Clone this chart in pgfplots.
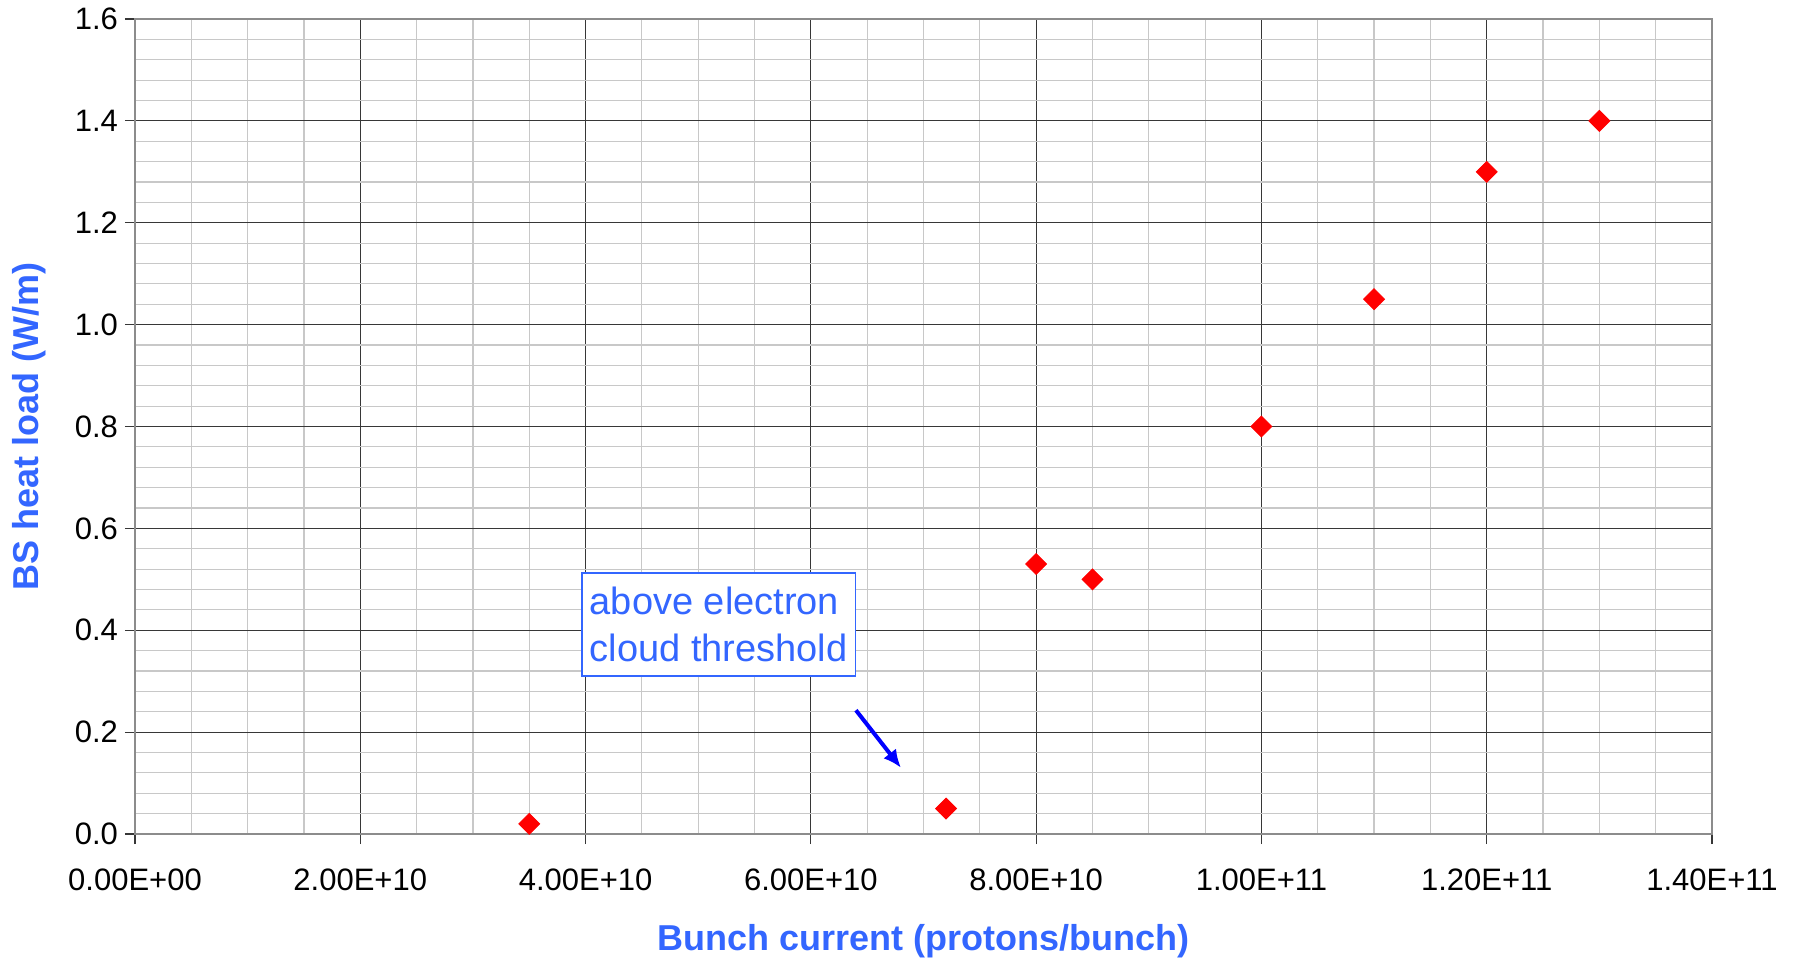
\documentclass[border=0pt]{standalone}
\usepackage{pgfplots}
\pgfplotsset{compat=1.18}
\usetikzlibrary{arrows.meta}
\usepackage{fontspec}
\setmainfont{Liberation Sans}
\definecolor{lblblue}{RGB}{51,102,255}
\definecolor{majgrid}{RGB}{55,55,55}
\definecolor{mingrid}{RGB}{200,200,200}
\definecolor{framegray}{RGB}{140,140,140}

\begin{document}
\begin{tikzpicture}
\begin{axis}[
    scale only axis,
    width=788.5pt, height=407.5pt,
    xmin=0, xmax=1.4e11,
    ymin=0, ymax=1.6,
    xtick={0,2e10,4e10,6e10,8e10,10e10,12e10,14e10},
    xticklabels={0.00E+00,2.00E+10,4.00E+10,6.00E+10,8.00E+10,1.00E+11,1.20E+11,1.40E+11},
    ytick={0,0.2,0.4,0.6,0.8,1.0,1.2,1.4,1.6},
    yticklabel style={/pgf/number format/.cd,fixed,fixed zerofill,precision=1},
    xticklabel style={yshift=-9pt},
    scaled x ticks=false,
    minor x tick num=3,
    minor y tick num=4,
    grid=both,
    major grid style={majgrid, line width=0.6pt},
    minor grid style={mingrid, line width=0.6pt},
    tick align=outside,
    major tick length=5pt,
    minor tick length=0pt,
    xtick pos=left, ytick pos=left,
    tick style={majgrid, line width=0.6pt},
    axis line style={framegray, line width=1pt},
    ticklabel style={font=\fontsize{15.5}{18}\selectfont},
    /pgf/number format/assume math mode=true,
    xlabel={Bunch current (protons/bunch)},
    ylabel={BS heat load (W/m)},
    label style={font=\bfseries\fontsize{18}{21}\selectfont, text=lblblue},
    xlabel style={at={(axis description cs:0.5,-0.132)}, anchor=center},
    ylabel style={at={(axis description cs:-0.0673,0.5)}, anchor=center},
    clip=false,
]
\addplot[only marks, mark=square*, mark size=3.7pt, color=red,
    mark options={rotate=45, fill=red, draw=red}]
    coordinates {
    (3.5e10, 0.02) (7.2e10, 0.05) (8.0e10, 0.53) (8.5e10, 0.50)
    (1.0e11, 0.80) (1.1e11, 1.05) (1.2e11, 1.30) (1.3e11, 1.40)
    };
\node[draw=lblblue, line width=0.8pt, fill=white, anchor=north west, align=left,
    text=lblblue, font=\fontsize{19}{23.5}\selectfont,
    inner xsep=4pt, inner ysep=7pt]
    at (axis cs:3.96e10,0.514) {above electron\\cloud threshold};
\draw[-{Latex[length=9pt,width=8pt]}, blue, line width=2pt] (axis cs:6.40e10,0.243) -- (axis cs:6.80e10,0.130);
\end{axis}
\pgfresetboundingbox
\path[use as bounding box] (-67.5pt,-62.5pt) rectangle (829pt,417pt);
\end{tikzpicture}
\end{document}
